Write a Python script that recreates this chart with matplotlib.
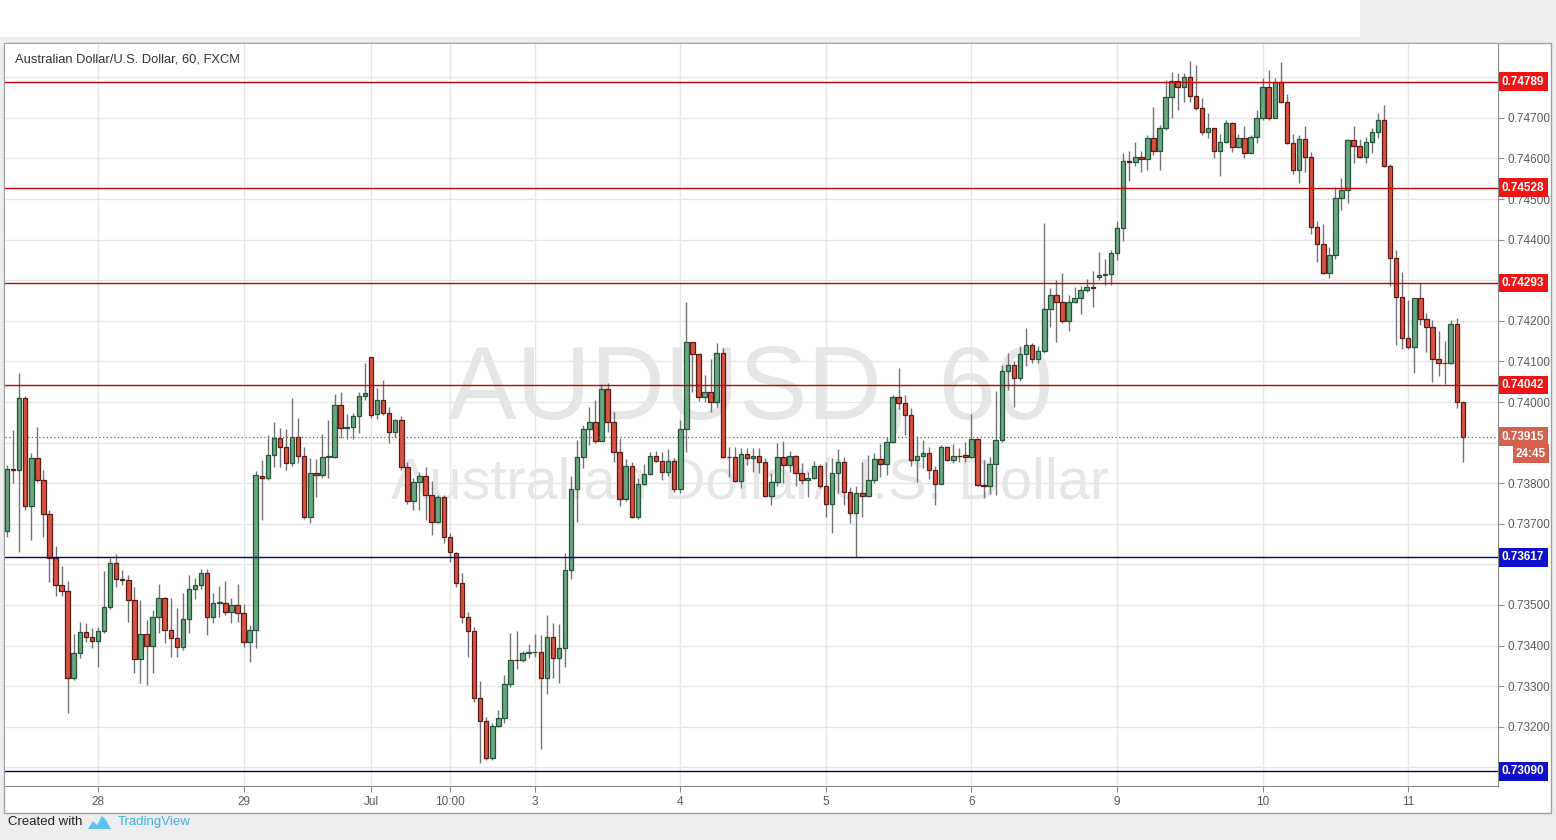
import numpy as np
import matplotlib
matplotlib.use('Agg')
import matplotlib.pyplot as plt
from matplotlib.patches import Rectangle, Polygon
from matplotlib.transforms import blended_transform_factory

plt.rcParams['font.family'] = ['Liberation Sans', 'DejaVu Sans']

# AUD/USD hourly candles, 27 Jun 09:00 .. 11 Jul 09:00 (weekend gaps removed)
opens = [
    0.73682, 0.73835, 0.73833, 0.74010, 0.73744, 0.73862, 0.73808, 0.73724, 0.73616, 0.73549,
    0.73535, 0.73320, 0.73382, 0.73434, 0.73421, 0.73411, 0.73436, 0.73495, 0.73603, 0.73564,
    0.73562, 0.73512, 0.73367, 0.73429, 0.73399, 0.73470, 0.73517, 0.73438, 0.73419, 0.73397,
    0.73466, 0.73539, 0.73549, 0.73579, 0.73470, 0.73505, 0.73505, 0.73483, 0.73500, 0.73480,
    0.73409, 0.73438, 0.73818, 0.73813, 0.73869, 0.73911, 0.73889, 0.73850, 0.73914, 0.73867,
    0.73717, 0.73825, 0.73820, 0.73864, 0.73865, 0.73993, 0.73936, 0.73938, 0.73966, 0.74015,
    0.74111, 0.73970, 0.74005, 0.73973, 0.73926, 0.73956, 0.73840, 0.73756, 0.73803, 0.73818,
    0.73771, 0.73704, 0.73766, 0.73668, 0.73628, 0.73554, 0.73470, 0.73436, 0.73271, 0.73214,
    0.73123, 0.73202, 0.73222, 0.73305, 0.73365, 0.73365, 0.73382, 0.73384, 0.73384, 0.73320,
    0.73421, 0.73370, 0.73394, 0.73586, 0.73786, 0.73865, 0.73934, 0.73951, 0.73904, 0.74032,
    0.73951, 0.73877, 0.73761, 0.73842, 0.73717, 0.73798, 0.73823, 0.73867, 0.73855, 0.73828,
    0.73855, 0.73786, 0.73934, 0.74148, 0.74118, 0.74012, 0.74025, 0.74000, 0.74121, 0.73865,
    0.73865, 0.73805, 0.73872, 0.73862, 0.73867, 0.73852, 0.73768, 0.73803, 0.73865, 0.73845,
    0.73867, 0.73825, 0.73808, 0.73813, 0.73842, 0.73793, 0.73749, 0.73825, 0.73852, 0.73778,
    0.73727, 0.73776, 0.73768, 0.73808, 0.73860, 0.73847, 0.73901, 0.74012, 0.73998, 0.73968,
    0.73857, 0.73867, 0.73874, 0.73833, 0.73798, 0.73889, 0.73857, 0.73867, 0.73869, 0.73865,
    0.73909, 0.73796, 0.73793, 0.73847, 0.73906, 0.74076, 0.74091, 0.74059, 0.74118, 0.74140,
    0.74106, 0.74126, 0.74229, 0.74264, 0.74246, 0.74200, 0.74246, 0.74256, 0.74276, 0.74283,
    0.74308, 0.74313, 0.74315, 0.74367, 0.74429, 0.74594, 0.74591, 0.74603, 0.74598, 0.74650,
    0.74618, 0.74675, 0.74751, 0.74791, 0.74776, 0.74800, 0.74754, 0.74724, 0.74665, 0.74675,
    0.74618, 0.74640, 0.74687, 0.74628, 0.74650, 0.74613, 0.74653, 0.74700, 0.74776, 0.74700,
    0.74788, 0.74739, 0.74638, 0.74571, 0.74648, 0.74603, 0.74431, 0.74389, 0.74318, 0.74362,
    0.74502, 0.74522, 0.74645, 0.74631, 0.74603, 0.74640, 0.74665, 0.74695, 0.74581, 0.74355,
    0.74259, 0.74158, 0.74135, 0.74256, 0.74204, 0.74185, 0.74106, 0.74096, 0.74096, 0.74192,
    0.74000,
]
highs = [
    0.73845, 0.73931, 0.74071, 0.74015, 0.73874, 0.73938, 0.73833, 0.73734, 0.73645, 0.73596,
    0.73559, 0.73429, 0.73458, 0.73456, 0.73443, 0.73446, 0.73584, 0.73616, 0.73626, 0.73586,
    0.73574, 0.73544, 0.73512, 0.73463, 0.73488, 0.73552, 0.73520, 0.73517, 0.73493, 0.73530,
    0.73574, 0.73567, 0.73589, 0.73589, 0.73530, 0.73547, 0.73559, 0.73517, 0.73552, 0.73502,
    0.73451, 0.73830, 0.73857, 0.73919, 0.73951, 0.73936, 0.73934, 0.74010, 0.73961, 0.73889,
    0.73862, 0.73860, 0.73921, 0.73956, 0.74020, 0.74025, 0.73970, 0.73973, 0.74025, 0.74096,
    0.74111, 0.74034, 0.74054, 0.73988, 0.73958, 0.73966, 0.73852, 0.73813, 0.73828, 0.73840,
    0.73805, 0.73771, 0.73771, 0.73677, 0.73631, 0.73579, 0.73483, 0.73446, 0.73313, 0.73224,
    0.73209, 0.73241, 0.73328, 0.73431, 0.73436, 0.73387, 0.73404, 0.73429, 0.73426, 0.73475,
    0.73456, 0.73453, 0.73628, 0.73818, 0.73906, 0.73943, 0.73988, 0.74005, 0.74044, 0.74047,
    0.73975, 0.73911, 0.73860, 0.73852, 0.73813, 0.73847, 0.73877, 0.73879, 0.73877, 0.73884,
    0.73862, 0.73956, 0.74246, 0.74148, 0.74121, 0.74067, 0.74106, 0.74145, 0.74133, 0.73889,
    0.73889, 0.73887, 0.73887, 0.73887, 0.73887, 0.73862, 0.73825, 0.73899, 0.73904, 0.73879,
    0.73869, 0.73850, 0.73828, 0.73855, 0.73847, 0.73852, 0.73862, 0.73884, 0.73865, 0.73791,
    0.73793, 0.73852, 0.73869, 0.73874, 0.73897, 0.73914, 0.74017, 0.74084, 0.74017, 0.73985,
    0.73916, 0.73906, 0.73889, 0.73842, 0.73894, 0.73892, 0.73897, 0.73887, 0.73901, 0.73970,
    0.73911, 0.73857, 0.73865, 0.74027, 0.74091, 0.74121, 0.74101, 0.74138, 0.74182, 0.74145,
    0.74138, 0.74441, 0.74281, 0.74300, 0.74318, 0.74264, 0.74283, 0.74286, 0.74303, 0.74323,
    0.74369, 0.74352, 0.74374, 0.74446, 0.74613, 0.74618, 0.74640, 0.74618, 0.74658, 0.74727,
    0.74682, 0.74793, 0.74813, 0.74810, 0.74810, 0.74840, 0.74830, 0.74749, 0.74712, 0.74675,
    0.74660, 0.74695, 0.74690, 0.74660, 0.74680, 0.74658, 0.74719, 0.74798, 0.74818, 0.74798,
    0.74837, 0.74759, 0.74660, 0.74658, 0.74680, 0.74616, 0.74446, 0.74438, 0.74382, 0.74530,
    0.74552, 0.74648, 0.74680, 0.74648, 0.74653, 0.74675, 0.74712, 0.74732, 0.74586, 0.74374,
    0.74320, 0.74251, 0.74256, 0.74293, 0.74219, 0.74202, 0.74175, 0.74150, 0.74202, 0.74207,
    0.74000,
]
lows = [
    0.73668, 0.73801, 0.73631, 0.73734, 0.73660, 0.73803, 0.73668, 0.73557, 0.73522, 0.73522,
    0.73234, 0.73315, 0.73370, 0.73409, 0.73394, 0.73347, 0.73431, 0.73490, 0.73544, 0.73549,
    0.73458, 0.73333, 0.73308, 0.73303, 0.73333, 0.73431, 0.73406, 0.73372, 0.73372, 0.73389,
    0.73431, 0.73515, 0.73539, 0.73426, 0.73456, 0.73470, 0.73475, 0.73456, 0.73458, 0.73397,
    0.73360, 0.73394, 0.73709, 0.73808, 0.73840, 0.73840, 0.73833, 0.73842, 0.73850, 0.73712,
    0.73702, 0.73766, 0.73813, 0.73813, 0.73862, 0.73911, 0.73909, 0.73909, 0.73924, 0.74005,
    0.73961, 0.73958, 0.73968, 0.73899, 0.73914, 0.73833, 0.73749, 0.73734, 0.73734, 0.73709,
    0.73672, 0.73702, 0.73653, 0.73606, 0.73544, 0.73456, 0.73372, 0.73261, 0.73111, 0.73118,
    0.73118, 0.73200, 0.73209, 0.73298, 0.73342, 0.73360, 0.73370, 0.73372, 0.73145, 0.73281,
    0.73320, 0.73308, 0.73347, 0.73564, 0.73704, 0.73837, 0.73894, 0.73899, 0.73904, 0.73926,
    0.73852, 0.73744, 0.73756, 0.73714, 0.73712, 0.73796, 0.73820, 0.73852, 0.73808, 0.73818,
    0.73778, 0.73776, 0.73877, 0.74025, 0.74002, 0.74000, 0.73975, 0.73988, 0.73862, 0.73815,
    0.73803, 0.73788, 0.73845, 0.73828, 0.73825, 0.73766, 0.73746, 0.73793, 0.73801, 0.73828,
    0.73793, 0.73798, 0.73766, 0.73810, 0.73788, 0.73717, 0.73677, 0.73776, 0.73746, 0.73702,
    0.73618, 0.73717, 0.73766, 0.73801, 0.73815, 0.73820, 0.73899, 0.73983, 0.73919, 0.73842,
    0.73803, 0.73837, 0.73810, 0.73746, 0.73798, 0.73855, 0.73850, 0.73852, 0.73852, 0.73862,
    0.73793, 0.73764, 0.73773, 0.73771, 0.73901, 0.74030, 0.73988, 0.74052, 0.74089, 0.74096,
    0.74096, 0.74121, 0.74185, 0.74148, 0.74195, 0.74175, 0.74244, 0.74217, 0.74271, 0.74234,
    0.74300, 0.74288, 0.74288, 0.74350, 0.74397, 0.74544, 0.74581, 0.74566, 0.74571, 0.74608,
    0.74571, 0.74670, 0.74700, 0.74719, 0.74739, 0.74739, 0.74719, 0.74658, 0.74650, 0.74601,
    0.74557, 0.74638, 0.74616, 0.74626, 0.74601, 0.74613, 0.74638, 0.74695, 0.74695, 0.74700,
    0.74736, 0.74635, 0.74562, 0.74539, 0.74566, 0.74414, 0.74345, 0.74315, 0.74305, 0.74352,
    0.74473, 0.74490, 0.74589, 0.74601, 0.74589, 0.74613, 0.74650, 0.74579, 0.74286, 0.74140,
    0.74131, 0.74131, 0.74071, 0.74190, 0.74123, 0.74049, 0.74064, 0.74044, 0.74094, 0.73985,
    0.73852,
]
closes = [
    0.73835, 0.73833, 0.74010, 0.73744, 0.73862, 0.73808, 0.73724, 0.73616, 0.73549, 0.73535,
    0.73320, 0.73382, 0.73434, 0.73421, 0.73411, 0.73436, 0.73495, 0.73603, 0.73564, 0.73562,
    0.73512, 0.73367, 0.73429, 0.73399, 0.73470, 0.73517, 0.73438, 0.73419, 0.73397, 0.73466,
    0.73539, 0.73549, 0.73579, 0.73470, 0.73505, 0.73507, 0.73483, 0.73500, 0.73480, 0.73409,
    0.73438, 0.73820, 0.73813, 0.73869, 0.73911, 0.73889, 0.73850, 0.73914, 0.73867, 0.73717,
    0.73825, 0.73820, 0.73865, 0.73866, 0.73993, 0.73936, 0.73938, 0.73966, 0.74015, 0.74022,
    0.73968, 0.74005, 0.73973, 0.73926, 0.73956, 0.73840, 0.73756, 0.73803, 0.73818, 0.73771,
    0.73704, 0.73766, 0.73668, 0.73631, 0.73554, 0.73470, 0.73436, 0.73271, 0.73214, 0.73123,
    0.73202, 0.73222, 0.73305, 0.73365, 0.73364, 0.73382, 0.73383, 0.73385, 0.73320, 0.73421,
    0.73370, 0.73394, 0.73586, 0.73786, 0.73865, 0.73934, 0.73951, 0.73904, 0.74032, 0.73951,
    0.73877, 0.73761, 0.73842, 0.73717, 0.73798, 0.73823, 0.73867, 0.73855, 0.73828, 0.73855,
    0.73786, 0.73934, 0.74148, 0.74118, 0.74012, 0.74025, 0.74000, 0.74121, 0.73865, 0.73864,
    0.73805, 0.73872, 0.73862, 0.73867, 0.73852, 0.73768, 0.73803, 0.73865, 0.73845, 0.73867,
    0.73825, 0.73808, 0.73813, 0.73842, 0.73793, 0.73749, 0.73825, 0.73852, 0.73778, 0.73727,
    0.73776, 0.73768, 0.73808, 0.73860, 0.73847, 0.73901, 0.74012, 0.73998, 0.73968, 0.73857,
    0.73867, 0.73874, 0.73833, 0.73798, 0.73889, 0.73857, 0.73867, 0.73866, 0.73865, 0.73909,
    0.73796, 0.73793, 0.73847, 0.73906, 0.74076, 0.74091, 0.74059, 0.74118, 0.74140, 0.74106,
    0.74126, 0.74229, 0.74264, 0.74246, 0.74200, 0.74246, 0.74256, 0.74276, 0.74283, 0.74281,
    0.74313, 0.74315, 0.74367, 0.74429, 0.74594, 0.74591, 0.74603, 0.74598, 0.74650, 0.74618,
    0.74675, 0.74751, 0.74791, 0.74776, 0.74800, 0.74754, 0.74724, 0.74665, 0.74675, 0.74618,
    0.74640, 0.74687, 0.74628, 0.74650, 0.74613, 0.74653, 0.74700, 0.74776, 0.74700, 0.74788,
    0.74739, 0.74638, 0.74571, 0.74648, 0.74603, 0.74431, 0.74389, 0.74318, 0.74362, 0.74502,
    0.74522, 0.74645, 0.74631, 0.74603, 0.74640, 0.74665, 0.74695, 0.74581, 0.74355, 0.74259,
    0.74158, 0.74135, 0.74256, 0.74204, 0.74185, 0.74106, 0.74096, 0.74097, 0.74192, 0.74000,
    0.73915,
]

# time axis labels (bar index of each label)
tick_bars = [15, 39, 60, 73, 87, 111, 135, 159, 183, 207, 231]
tick_labels = ['28', '29', 'Jul', '10:00', '3', '4', '5', '6', '9', '10', '11']

# price grid; labels hidden behind the level tags are left blank
price_ticks = [0.7310, 0.7320, 0.7330, 0.7340, 0.7350, 0.7360, 0.7370, 0.7380, 0.7390,
               0.7400, 0.7410, 0.7420, 0.7430, 0.7440, 0.7450, 0.7460, 0.7470, 0.7480]
hidden_ticks = [0.7310, 0.7360, 0.7390, 0.7430, 0.7480]

red_levels = [0.74789, 0.74528, 0.74293, 0.74042]
blue_levels = [0.73617, 0.73090]
last_price = 0.73915
countdown = '24:45'

W, H = 1556, 840
fig = plt.figure(figsize=(W / 100, H / 100), dpi=100)
fig.patch.set_facecolor('#eceef0')

def fx(px):
    return px / W

def fy(py):
    return 1 - py / H

# white strip on top and the chart box, kept behind the axes
fig.patches.append(Rectangle((0, fy(37)), fx(1360), 37 / H, transform=fig.transFigure,
                             facecolor='white', edgecolor='none', zorder=-10))
fig.patches.append(Rectangle((fx(4), fy(813)), fx(1547), (813 - 43) / H, transform=fig.transFigure,
                             facecolor='white', edgecolor='#a0a0a0', lw=1, zorder=-10))

ax = fig.add_axes([fx(5), fy(786), fx(1493), (786 - 44) / H])
ax.set_facecolor('white')

o = np.array(opens)
h = np.array(highs)
l = np.array(lows)
c = np.array(closes)
x = np.arange(len(o))
up = c >= o

ax.vlines(x, l, h, color='#737375', lw=1, zorder=2)
bottoms = np.minimum(o, c)
heights = np.maximum(np.abs(c - o), 0.000012)
ax.bar(x[up], heights[up], bottom=bottoms[up], width=0.74, color='#6ba583',
       edgecolor='#225437', linewidth=0.9, zorder=3)
ax.bar(x[~up], heights[~up], bottom=bottoms[~up], width=0.74, color='#d75442',
       edgecolor='#5b1a13', linewidth=0.9, zorder=3)

ax.set_xlim(-0.33, 245.8)
ax.set_ylim(0.73054, 0.74882)

# grid and axes
ytick_text = []
for t in price_ticks:
    if any(abs(t - hd) < 1e-9 for hd in hidden_ticks):
        ytick_text.append('')
    else:
        ytick_text.append(f'{t:.5f}')
ax.set_yticks(price_ticks)
ax.set_yticklabels(ytick_text)
ax.yaxis.tick_right()
ax.set_xticks(tick_bars)
ax.set_xticklabels(tick_labels)
ax.grid(True, color='#e6e6e6', lw=1, zorder=0)
ax.set_axisbelow(True)
ax.tick_params(axis='y', length=4, color='#8a8a8a', labelcolor='#5a5a5a', labelsize=8.5, pad=3)
ax.tick_params(axis='x', length=4, color='#8a8a8a', labelcolor='#5a5a5a', labelsize=8.5, pad=3)
for side in ['top', 'left']:
    ax.spines[side].set_visible(False)
for side in ['right', 'bottom']:
    ax.spines[side].set_color('#8a8a8a')

# support / resistance lines
for lv in red_levels:
    ax.axhline(lv, color='#c40000', lw=1, zorder=4)
for lv in blue_levels:
    ax.axhline(lv, color='#00007a', lw=1, zorder=4)
ax.axhline(last_price, color='#b54a3a', lw=0.9, ls=(0, (1, 2)), zorder=4)

# price tags on the axis
tr = blended_transform_factory(ax.transAxes, ax.transData)
lab_x = 1.0 + 4 / 1493
for lv in red_levels:
    ax.text(lab_x, lv, f'{lv:.5f}', transform=tr, ha='left', va='center', fontsize=8.5,
            color='white', fontweight='bold', clip_on=False, zorder=6,
            bbox=dict(boxstyle='square,pad=0.28', fc='#f01414', ec='none'))
for lv in blue_levels:
    ax.text(lab_x, lv, f'{lv:.5f}', transform=tr, ha='left', va='center', fontsize=8.5,
            color='white', fontweight='bold', clip_on=False, zorder=6,
            bbox=dict(boxstyle='square,pad=0.28', fc='#1010c8', ec='none'))
ax.text(lab_x, last_price, f'{last_price:.5f}', transform=tr, ha='left', va='center', fontsize=8.5,
        color='white', fontweight='bold', clip_on=False, zorder=6,
        bbox=dict(boxstyle='square,pad=0.28', fc='#d4604d', ec='none'))
ax.text(1.0 + 48 / 1493, last_price - 0.00042, countdown, transform=tr, ha='right', va='center',
        fontsize=8.5, color='white', fontweight='bold', clip_on=False, zorder=6,
        bbox=dict(boxstyle='square,pad=0.28', fc='#d4604d', ec='none'))

# watermark
ax.text(0.499, 0.531, 'AUDUSD, 60', transform=ax.transAxes, ha='center', va='center',
        fontsize=74, color='#e6e6e6', zorder=0.5)
ax.text(0.499, 0.408, 'Australian Dollar/U.S. Dollar', transform=ax.transAxes, ha='center',
        va='center', fontsize=41.5, color='#e6e6e6', zorder=0.5)

# title
ax.text(10 / 1493, (786 - 60) / 742, 'Australian Dollar/U.S. Dollar, 60, FXCM', transform=ax.transAxes,
        ha='left', va='center', fontsize=9.3, color='#333333', zorder=6)

# footer
fig.text(fx(8), fy(822), 'Created with', ha='left', va='center', fontsize=9.5, color='#222222')
fig.patches.append(Polygon([(fx(88), fy(829)), (fx(93), fy(821)), (fx(97), fy(825)), (fx(102), fy(816)),
                            (fx(106), fy(820)), (fx(111), fy(829))], closed=True, transform=fig.transFigure,
                           facecolor='#5ec3ee', edgecolor='none'))
fig.text(fx(118), fy(822), 'TradingView', ha='left', va='center', fontsize=9.5, color='#3bb2e3')

fig.savefig('out.png', dpi=100, facecolor=fig.get_facecolor())
